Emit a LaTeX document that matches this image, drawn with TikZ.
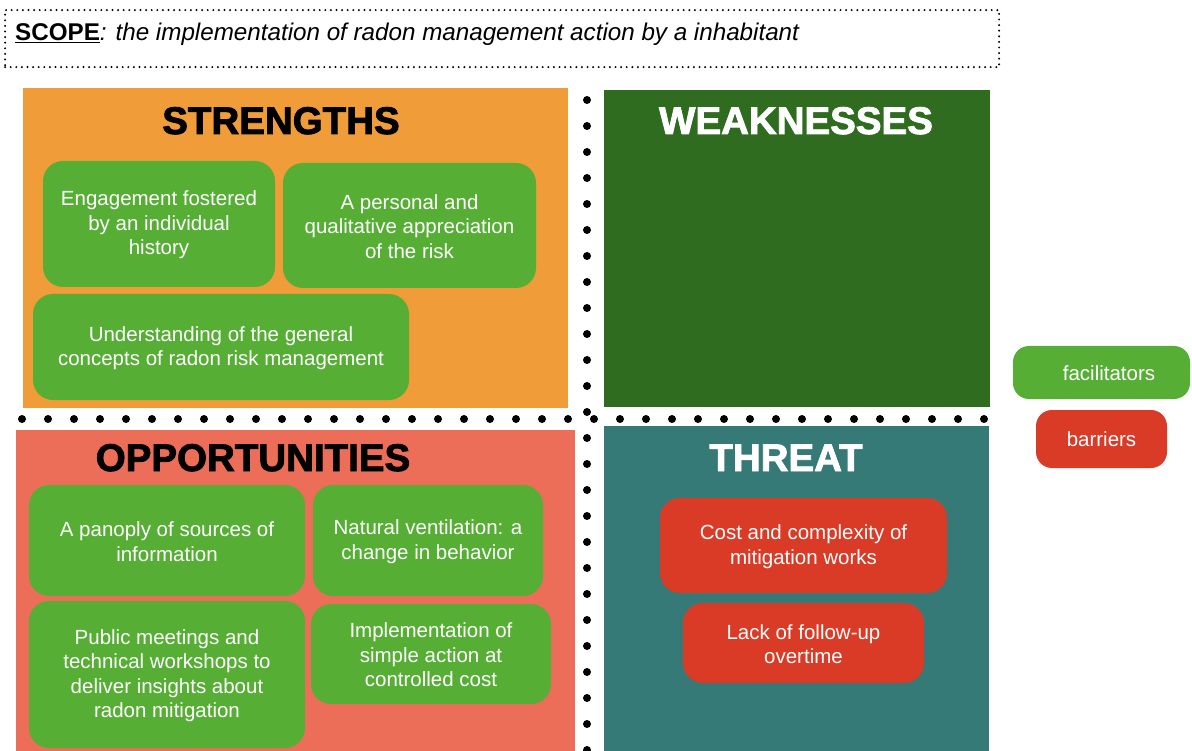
\documentclass[tikz,border=0pt]{standalone}
\usepackage{fontspec}
\setmainfont{Liberation Sans}
\newfontfamily\heavyfont[FakeBold=2.2]{Liberation Sans Bold}
\definecolor{sorange}{HTML}{F09C38}
\definecolor{wgreen}{HTML}{2F6C1F}
\definecolor{osalmon}{HTML}{EC6E58}
\definecolor{tteal}{HTML}{357A77}
\definecolor{fgreen}{HTML}{56AE35}
\definecolor{bred}{HTML}{DA3B26}
\tikzset{
  quad/.style={draw=none, inner sep=0pt, anchor=north west},
  title/.style={font=\heavyfont\fontsize{38.5}{44}\selectfont, anchor=base, inner sep=0pt},
  card/.style={rounded corners=20pt, inner sep=0pt, align=center, text=white,
    font=\fontsize{20.5}{24.5}\selectfont},
  gbox/.style={card, fill=fgreen},
  rbox/.style={card, fill=bred},
  bigdot/.style={fill=black},
}
\begin{document}
\begin{tikzpicture}[x=1pt,y=-1pt]
\useasboundingbox (0,0) rectangle (1192,751);
% scope
\node[draw, line width=2.2pt, dash pattern=on 0pt off 5.6pt, line cap=round,
      minimum width=994pt, minimum height=57pt, anchor=north west, inner sep=0pt] (scopebox) at (4,9) {};
\node[anchor=base west, inner sep=0pt, font=\fontsize{24.2}{28}\selectfont] (scope) at (15,41)
  {\underline{\textbf{SCOPE}}\textit{: the implementation of radon management action by a inhabitant}};
% quadrants
\node[quad, fill=sorange, minimum width=545pt, minimum height=320pt] (S) at (23,88) {};
\node[quad, fill=wgreen, minimum width=386pt, minimum height=317pt] (W) at (604,90) {};
\node[quad, fill=osalmon, minimum width=559pt, minimum height=321pt] (O) at (16,430) {};
\node[quad, fill=tteal, minimum width=385pt, minimum height=325pt] (T) at (604,426) {};
% titles
\node[title] (St) at (281,134) {STRENGTHS};
\node[title, text=white] (Wt) at (796,134) {WEAKNESSES};
\node[title] (Ot) at (253,471) {OPPORTUNITIES};
\node[title, text=white] (Tt) at (786,471) {THREAT};
% dotted separators
\foreach \i in {0,...,37} \fill[bigdot] (22+26*\i,419) circle (4pt);
\foreach \i in {0,...,25} \fill[bigdot] (587,100+26*\i) circle (4pt);
% strengths
\node[gbox, minimum width=232pt, minimum height=126pt] (s1) at (159,224) {\strut Engagement fostered\\by an individual\\history};
\node[gbox, minimum width=253pt, minimum height=125pt] (s2) at (409.5,225.5) {\strut A personal and\\qualitative appreciation\\of the risk};
\node[gbox, minimum width=376pt, minimum height=106pt] (s3) at (221,347) {\strut Understanding of the general\\concepts of radon risk management};
% opportunities
\node[gbox, minimum width=276pt, minimum height=111pt] (o1) at (167,540.5) {\strut A panoply of sources of\\information};
\node[gbox, minimum width=230pt, minimum height=111pt] (o2) at (428,540.5) {\strut Natural ventilation: a\\change in behavior};
\node[gbox, minimum width=276pt, minimum height=147pt] (o3) at (167,674.5) {\strut Public meetings and\\technical workshops to\\deliver insights about\\radon mitigation};
\node[gbox, minimum width=240pt, minimum height=100pt] (o4) at (431,654) {\strut Implementation of\\simple action at\\controlled cost};
% threats
\node[rbox, minimum width=287pt, minimum height=95pt] (t1) at (803.5,545.5) {\strut Cost and complexity of\\mitigation works};
\node[rbox, minimum width=241pt, minimum height=80pt] (t2) at (803.5,643) {\strut Lack of follow-up\\overtime};
% legend
\node[gbox, rounded corners=16pt, minimum width=177pt, minimum height=53pt] (lf) at (1101.5,372.5) {};
\node[text=white, inner sep=0pt, font=\fontsize{20.5}{24.5}\selectfont] (lft) at (1109,373) {facilitators};
\node[rbox, rounded corners=16pt, minimum width=131pt, minimum height=58pt] (lb) at (1101.5,439) {barriers};
\end{tikzpicture}
\end{document}
